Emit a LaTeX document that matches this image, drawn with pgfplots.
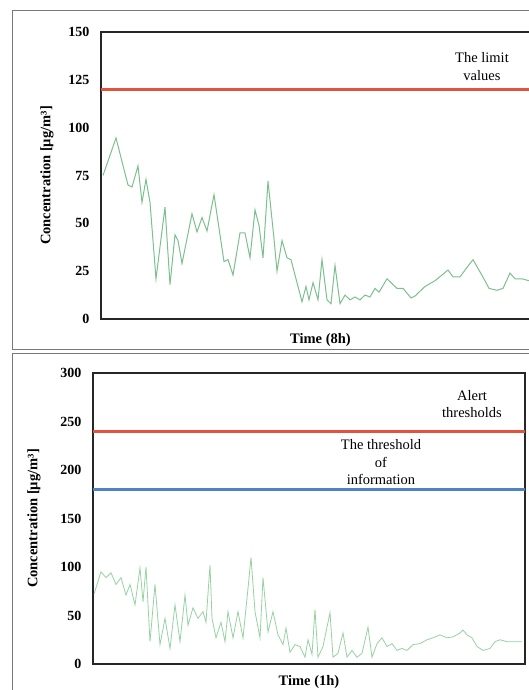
\documentclass[border=0pt]{standalone}
\usepackage{pgfplots}
\pgfplotsset{compat=1.18}
\usepackage{fontspec}
\setmainfont{Liberation Serif}
\definecolor{lred}{RGB}{228,82,62}
\definecolor{lblue}{RGB}{80,128,198}
\definecolor{gtop}{RGB}{125,192,143}
\definecolor{gbot}{RGB}{150,210,162}
\definecolor{frm}{RGB}{120,120,120}
\pgfplotsset{
  panel/.style={
    scale only axis,
    ymin=0,
    axis line style={line width=2.4pt, black!85},
    major tick length=0pt,
    xtick=\empty,
    /pgf/number format/assume math mode=true,
    tick label style={font=\fontsize{14}{16}\selectfont\bfseries},
    yticklabel style={anchor=east, xshift=-8pt},
    label style={font=\fontsize{14.5}{16}\selectfont\bfseries},
    clip=true,
  }
}
\begin{document}
\begin{tikzpicture}[x=1pt,y=1pt]
\path[use as bounding box] (0,0) rectangle (529,690);
\clip (0,0) rectangle (529,690);
\fill[white] (0,0) rectangle (529,690);
\draw[frm, line width=0.9pt] (12,341) rectangle (580,680);
\draw[frm, line width=0.9pt] (12,-20) rectangle (580,337);

\begin{axis}[panel,
  at={(101pt,371pt)}, anchor=south west,
  width=439pt, height=287pt,
  xmin=101, xmax=540, ymax=150,
  ytick={0,25,...,150},
  xlabel={Time (8h)},
  xlabel style={at={(axis description cs:0.5,-0.073)}, anchor=center},
  ylabel={Concentration [µg/m³]},
  ylabel style={at={(axis description cs:-0.123,0.5)}, anchor=center},
]
\addplot[lred, line width=3pt] coordinates {(90,120) (560,120)};
\addplot[gtop, line width=1pt] coordinates {
(103,75) (116,94.6) (128,70) (132,69) (138,80) (142,61) (146,73) (150,61)
(156,21) (165,58.5) (170,18) (175,44) (178,41) (182,29) (192,55) (197,45.5)
(202,53) (207,46) (214,65) (218,51) (224,30) (228,31) (233,23) (240,45)
(245,45) (250,32) (255,57) (259,49) (263,32) (268,72) (274,42) (277,25)
(282,41) (287,32) (291,31) (297,19) (302,9) (306,17) (309,10) (313,19)
(318,10) (322,31) (327,10) (331,8) (335,28) (340,8) (345,12.5) (350,10)
(355,11.5) (360,10) (365,12.5) (370,11.5) (375,16) (379,14) (387,21) (391,19)
(397,16) (403,16) (411,11) (415,12) (425,17) (435,20) (442,23) (448,25.6)
(453,22) (460,22) (467,27) (473,31) (480,24.6) (485,20) (489,16) (497,15)
(503,16) (510,24) (515,21) (522,21) (529,20) (540,20)
};
\node[align=center, font=\fontsize{14.5}{17.5}\selectfont] at (axis cs:482,132) {The limit\\values};
\end{axis}

\begin{axis}[panel,
  at={(93pt,26pt)}, anchor=south west,
  width=432pt, height=291pt,
  xmin=93, xmax=525, ymax=300,
  ytick={0,50,...,300},
  xlabel={Time (1h)},
  xlabel style={at={(axis description cs:0.5,-0.062)}, anchor=center},
  ylabel={Concentration [µg/m³]},
  ylabel style={at={(axis description cs:-0.1366,0.5)}, anchor=center},
]
\addplot[lred, line width=3pt] coordinates {(80,240) (540,240)};
\addplot[lblue, line width=3pt] coordinates {(80,180) (540,180)};
\addplot[gbot, line width=0.8pt] coordinates {
(94,72) (101,95) (106,89) (111,94) (116,82) (121,89) (126,71) (130,82)
(135,61) (140,99) (143,64) (146,100) (150,23) (155,82) (160,20) (165,47)
(170,16) (175,61) (180,23) (185,71) (188,40) (193,58) (198,47) (203,54)
(206,43) (210,102) (212,47) (216,27) (221,43) (225,23) (228,54) (233,27)
(238,54) (243,27) (248,78) (251,110) (255,54) (260,27) (263,89) (268,33)
(273,54) (278,30) (283,20) (286,37) (290,12) (295,20) (300,18) (305,7)
(308,25) (312,10) (315,56) (318,7) (323,18) (330,53) (333,7) (338,11)
(343,32) (347,7) (352,14) (357,7) (362,11) (368,38) (372,7) (377,21)
(382,27) (387,18) (392,21) (397,14) (402,16) (407,14) (413,20) (420,21)
(427,25) (433,27) (440,30) (447,27) (453,28) (460,32) (463,35) (467,30)
(472,27) (477,18) (483,14) (490,16) (495,23) (500,25) (507,23) (513,23)
(522,23)
};
\node[align=center, font=\fontsize{14.5}{17.5}\selectfont] at (axis cs:472,268) {Alert\\thresholds};
\node[align=center, font=\fontsize{14.5}{17.5}\selectfont] at (axis cs:381,208) {The threshold\\of\\information};
\end{axis}
\end{tikzpicture}
\end{document}
